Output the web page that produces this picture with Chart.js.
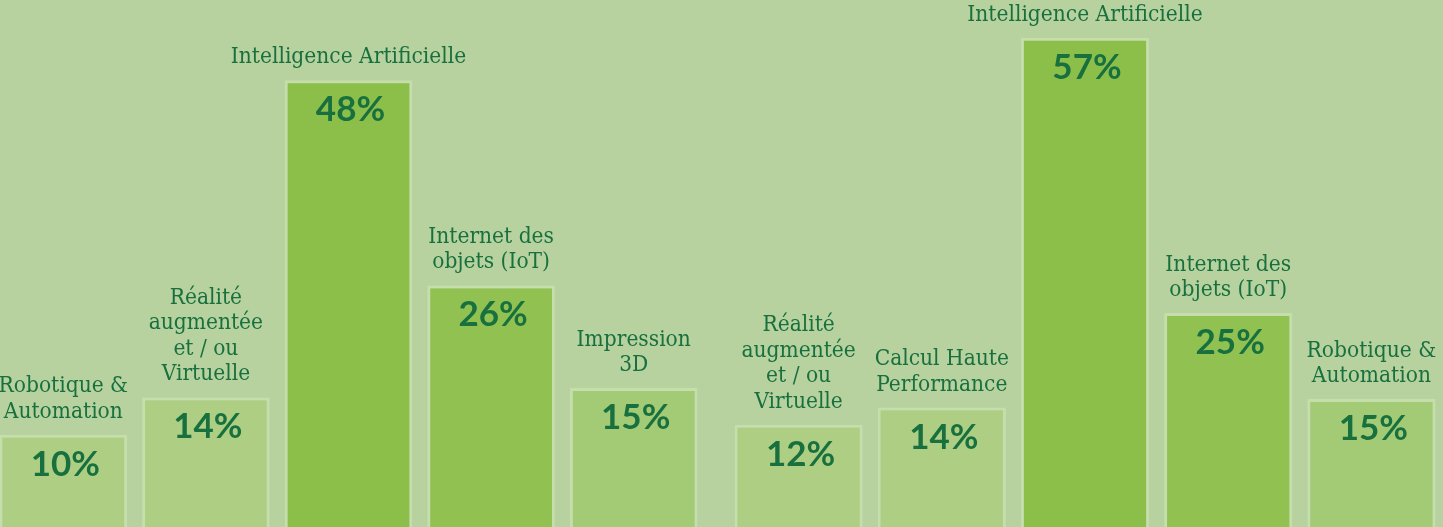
<!DOCTYPE html>
<html>
<head>
<meta charset="utf-8">
<script src="https://cdn.jsdelivr.net/npm/chart.js@4/dist/chart.umd.min.js"></script>
<style>
  html, body { margin: 0; padding: 0; background: #b7d29f; overflow: hidden; }
  body { width: 1443px; height: 527px; position: relative; }
  canvas { position: absolute; top: 0; }
</style>
</head>
<body>
<canvas id="left" width="713" height="528" style="left:-8px"></canvas>
<canvas id="right" width="716" height="528" style="left:727px"></canvas>
<script>
// data
var leftLabels = [
    ['Robotique &', 'Automation'],
    ['Réalité', 'augmentée', 'et / ou', 'Virtuelle'],
    ['Intelligence Artificielle'],
    ['Internet des', 'objets (IoT)'],
    ['Impression', '3D']
];
var leftValues = [10, 14, 48, 26, 15];

var rightLabels = [
    ['Réalité', 'augmentée', 'et / ou', 'Virtuelle'],
    ['Calcul Haute', 'Performance'],
    ['Intelligence Artificielle'],
    ['Internet des', 'objets (IoT)'],
    ['Robotique &', 'Automation']
];
var rightValues = [12, 14, 57, 25, 15];

// bar fills
var leftColors = ['#aecf83', '#aecf83', '#8bbf4a', '#90c151', '#a3ca74'];
var rightColors = ['#aecf83', '#aecf83', '#8bbf4a', '#90c151', '#a3ca74'];

var textGreen = '#18703f';

// draws the category name above each bar and the value inside it
var barText = {
    id: 'barText',
    afterDatasetsDraw: function(chart) {
        var ctx = chart.ctx;
        var meta = chart.getDatasetMeta(0);
        var values = chart.data.datasets[0].data;
        ctx.save();
        ctx.textAlign = 'center';
        ctx.textBaseline = 'alphabetic';
        meta.data.forEach(function(bar, i) {
            var lines = chart.data.labels[i];
            ctx.fillStyle = textGreen;
            ctx.font = '22.5px "DejaVu Serif Condensed", "DejaVu Serif", serif';
            for (var j = 0; j < lines.length; j++) {
                var y = bar.y - 17 - (lines.length - 1 - j) * 25.5;
                ctx.fillText(lines[j], bar.x, y);
            }
            ctx.font = 'bold 35px Lato, sans-serif';
            ctx.fillText(values[i] + '%', bar.x + 2, bar.y + 41);
        });
        ctx.restore();
    }
};

function makeChart(id, labels, values, colors, yMax) {
    return new Chart(document.getElementById(id), {
        type: 'bar',
        data: {
            labels: labels,
            datasets: [{
                data: values,
                backgroundColor: colors,
                borderColor: '#c5deab',
                borderWidth: { top: 3, left: 3, right: 3, bottom: 0 },
                borderSkipped: false,
                categoryPercentage: 1,
                barPercentage: 0.895
            }]
        },
        options: {
            responsive: false,
            animation: false,
            layout: { padding: 0 },
            plugins: { legend: { display: false }, tooltip: { enabled: false } },
            scales: {
                x: { display: false },
                y: { display: false, min: 0, max: yMax }
            }
        },
        plugins: [barText]
    });
}

makeChart('left', leftLabels, leftValues, leftColors, 56.6);
makeChart('right', rightLabels, rightValues, rightColors, 61.4);
</script>
</body>
</html>
